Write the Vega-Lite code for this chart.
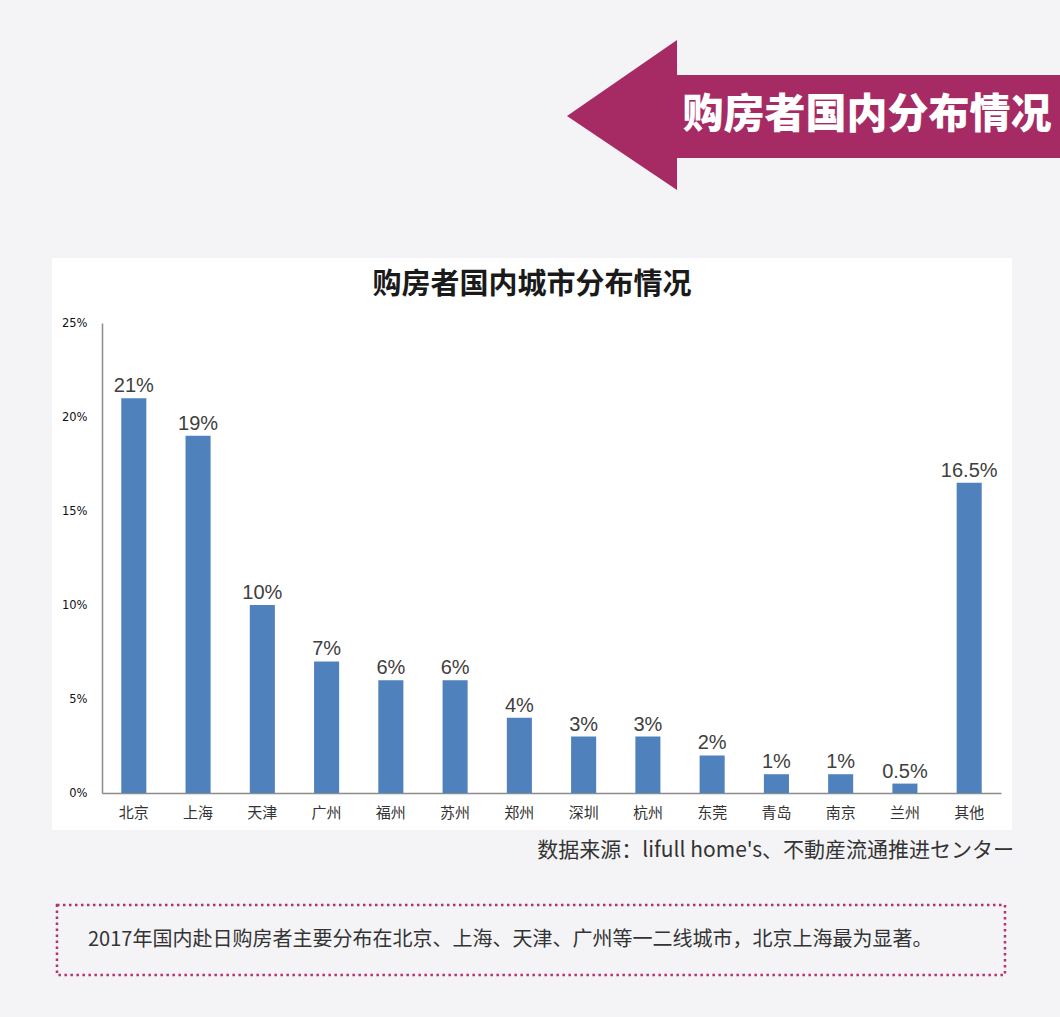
{
  "$schema": "https://vega.github.io/schema/vega-lite/v6.json",
  "width": 960,
  "height": 572,
  "autosize": {"type": "none"},
  "padding": {"left": 52, "top": 258, "right": 48, "bottom": 187},
  "background": "#f4f3f6",
  "view": {"fill": "#ffffff", "stroke": null},
  "config": {"view": {"fill": "#ffffff", "stroke": null}},
  "data": {
    "values": [
      {"city": "北京", "share": 0.21},
      {"city": "上海", "share": 0.19},
      {"city": "天津", "share": 0.10},
      {"city": "广州", "share": 0.07},
      {"city": "福州", "share": 0.06},
      {"city": "苏州", "share": 0.06},
      {"city": "郑州", "share": 0.04},
      {"city": "深圳", "share": 0.03},
      {"city": "杭州", "share": 0.03},
      {"city": "东莞", "share": 0.02},
      {"city": "青岛", "share": 0.01},
      {"city": "南京", "share": 0.01},
      {"city": "兰州", "share": 0.005},
      {"city": "其他", "share": 0.165}
    ]
  },
  "layer": [
    {
      "mark": {"type": "bar", "color": "#4f81bd"},
      "encoding": {
        "x": {
          "field": "city", "type": "nominal", "sort": null,
          "scale": {"range": [50, 949], "paddingInner": 0.61, "paddingOuter": 0.3},
          "axis": {
            "title": null, "offset": -37, "labelAngle": 0, "ticks": false, "grid": false,
            "domainColor": "#8c8c8c", "domainWidth": 1.5,
            "labelFont": "Noto Sans CJK SC", "labelFontSize": 15, "labelColor": "#333333", "labelPadding": 12
          }
        },
        "y": {
          "field": "share", "type": "quantitative",
          "scale": {"domain": [0, 0.25], "range": [535, 65], "nice": false, "zero": true},
          "axis": {
            "title": null, "offset": -50, "values": [0, 0.05, 0.1, 0.15, 0.2, 0.25], "format": ".0%",
            "grid": false, "ticks": false, "tickSize": 0, "domainColor": "#8c8c8c", "domainWidth": 1.5,
            "labelFont": "DejaVu Sans", "labelFontSize": 11.5, "labelColor": "#111111", "labelPadding": 15
          }
        }
      }
    },
    {
      "mark": {"type": "text", "font": "Liberation Sans", "fontSize": 20, "color": "#404040", "baseline": "alphabetic", "dy": -6},
      "encoding": {
        "x": {"field": "city", "type": "nominal", "sort": null},
        "y": {"field": "share", "type": "quantitative"},
        "text": {"field": "share", "type": "quantitative", "format": ".1~%"}
      }
    },
    {
      "data": {"values": [{}]},
      "mark": {"type": "text", "text": "购房者国内城市分布情况", "font": "Noto Sans CJK SC", "fontSize": 29, "fontWeight": "bold", "color": "#1a1a1a", "align": "center", "baseline": "middle", "dy": -259}
    },
    {
      "data": {"values": [{}]},
      "mark": {"type": "point", "shape": "M 0.0583 -0.7133 L 0.2417 -0.84 L 0.2417 -0.7817 L 0.9 -0.7817 L 0.9 -0.6433 L 0.2417 -0.6433 L 0.2417 -0.59 Z", "size": 1440000, "filled": true, "fill": "#a62a64", "opacity": 1, "strokeWidth": 0}
    },
    {
      "data": {"values": [{}]},
      "mark": {"type": "text", "text": "购房者国内分布情况", "font": "Noto Sans CJK SC", "fontSize": 41, "fontWeight": 900, "color": "#ffffff", "align": "center", "baseline": "middle", "dx": 335, "dy": -428}
    },
    {
      "data": {"values": [{}]},
      "mark": {"type": "text", "text": "数据来源：lifull home's、不動産流通推进センター", "font": "Noto Sans CJK SC", "fontSize": 21, "color": "#333333", "align": "right", "baseline": "middle", "dx": 482, "dy": 307}
    },
    {
      "data": {"values": [{}]},
      "mark": {"type": "point", "shape": "M -0.7917 0.6017 L 0.7883 0.6017 L 0.7883 0.7183 L -0.7917 0.7183 Z", "size": 1440000, "filled": false, "stroke": "#b5326e", "strokeWidth": 2.5, "strokeDash": [2.5, 3.5], "opacity": 1}
    },
    {
      "data": {"values": [{}]},
      "mark": {"type": "text", "text": "2017年国内赴日购房者主要分布在北京、上海、天津、广州等一二线城市，北京上海最为显著。", "font": "Noto Sans CJK SC", "fontSize": 20, "color": "#333333", "align": "left", "baseline": "middle", "dx": -444, "dy": 396}
    }
  ]
}
